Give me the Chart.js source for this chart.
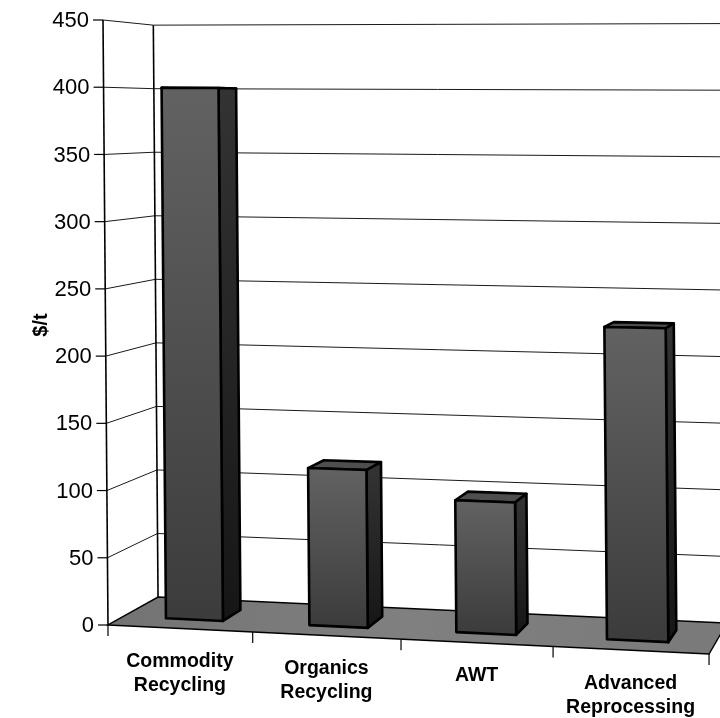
<!DOCTYPE html>
<html>
<head>
<meta charset="utf-8">
<script src="https://cdn.jsdelivr.net/npm/chart.js@4/dist/chart.umd.min.js"></script>
<style>
  html, body { margin: 0; padding: 0; background: #ffffff; }
  #wrap { width: 720px; height: 718px; }
</style>
</head>
<body>
<div id="wrap"><canvas id="c" width="720" height="718"></canvas></div>
<script>
// ---- data ----
const categories = [['Commodity', 'Recycling'], ['Organics', 'Recycling'], ['AWT'], ['Advanced', 'Reprocessing']];
const costPerTonne = [400, 117, 97, 227];
const valueTickMin = 0;
const valueTickMax = 450;
const valueTickStep = 50;
const valueAxisTitle = '$/t';

// ---- 3D view ----
// Perspective mapping of the plot box: u runs along the categories (0..1),
// t up the value axis (0..1), d from the front plane (0) to the back wall (1).
const VIEW = {
  x: [108, 566.5, -5, 59.2],
  y: [625, -2.8, -605, 6.6],
  w: [1, -0.0487, 0, 0.0579]
};
function proj(u, t, d) {
  const w = VIEW.w[0] + VIEW.w[1] * u + VIEW.w[2] * t + VIEW.w[3] * d;
  return {
    x: (VIEW.x[0] + VIEW.x[1] * u + VIEW.x[2] * t + VIEW.x[3] * d) / w,
    y: (VIEW.y[0] + VIEW.y[1] * u + VIEW.y[2] * t + VIEW.y[3] * d) / w
  };
}
const BAR_FRONT = 0.30;   // depth of the bar front faces
const BAR_BACK = 0.69;    // depth of the bar back faces

function poly(ctx, pts) {
  ctx.beginPath();
  ctx.moveTo(pts[0].x, pts[0].y);
  for (let i = 1; i < pts.length; i++) ctx.lineTo(pts[i].x, pts[i].y);
  ctx.closePath();
}
function line(ctx, a, b) {
  ctx.beginPath();
  ctx.moveTo(a.x, a.y);
  ctx.lineTo(b.x, b.y);
  ctx.stroke();
}

const box3d = {
  id: 'box3d',
  afterDatasetsDraw(chart) {
    const ctx = chart.ctx;
    const ca = chart.chartArea;
    const xs = chart.scales.x;
    const ys = chart.scales.y;
    const uOf = px => (px - ca.left) / (ca.right - ca.left);
    const tOf = py => (ca.bottom - py) / (ca.bottom - ca.top);

    const values = [];
    for (let v = valueTickMin; v <= valueTickMax + 1e-9; v += valueTickStep) values.push(v);

    ctx.save();
    ctx.lineCap = 'butt';
    ctx.lineJoin = 'miter';

    // walls: gridlines on the side wall and back wall
    ctx.strokeStyle = '#1a1a1a';
    ctx.lineWidth = 1;
    values.forEach(v => {
      if (v === valueTickMin) return;
      const t = tOf(ys.getPixelForValue(v));
      const a = proj(0, t, 0), b = proj(0, t, 1), c = proj(1, t, 1);
      ctx.beginPath();
      ctx.moveTo(a.x, a.y);
      ctx.lineTo(b.x, b.y);
      ctx.lineTo(c.x, c.y);
      ctx.stroke();
    });
    ctx.lineWidth = 1.6;
    ctx.strokeStyle = '#000';
    line(ctx, proj(0, 0, 1), proj(0, 1, 1));

    // floor
    const f0 = proj(0, 0, 0), f1 = proj(1, 0, 0), f2 = proj(1, 0, 1), f3 = proj(0, 0, 1);
    poly(ctx, [f0, f1, f2, f3]);
    const fg = ctx.createLinearGradient(f0.x, 0, f1.x, 0);
    fg.addColorStop(0, '#737373');
    fg.addColorStop(0.5, '#808080');
    fg.addColorStop(1, '#7a7a7a');
    ctx.fillStyle = fg;
    ctx.fill();
    ctx.lineWidth = 1.4;
    ctx.strokeStyle = '#000';
    ctx.stroke();

    // value axis on the front edge
    ctx.lineWidth = 1.6;
    line(ctx, proj(0, 0, 0), proj(0, 1, 0));
    ctx.lineWidth = 1.2;
    ctx.font = '22px "Liberation Sans", Arial, sans-serif';
    ctx.fillStyle = '#000';
    ctx.textAlign = 'right';
    ctx.textBaseline = 'middle';
    values.forEach(v => {
      const t = tOf(ys.getPixelForValue(v));
      const p = proj(0, t, 0);
      line(ctx, p, { x: p.x - 10, y: p.y });
      ctx.fillText(String(v), p.x - 14, p.y + 1);
    });

    // category ticks and labels along the front floor edge
    const catW = xs.getPixelForValue(1) - xs.getPixelForValue(0);
    for (let i = 0; i <= categories.length; i++) {
      const u = uOf(xs.getPixelForValue(i) - catW / 2);
      const p = proj(u, 0, 0);
      line(ctx, p, { x: p.x, y: p.y + 11 });
    }
    ctx.font = 'bold 19.5px "Liberation Sans", Arial, sans-serif';
    ctx.textAlign = 'center';
    categories.forEach((lab, i) => {
      const p = proj(uOf(xs.getPixelForValue(i)), 0, 0);
      lab.forEach((s, k) => ctx.fillText(s, p.x, p.y + 33 + k * 24));
    });

    // axis title
    ctx.save();
    ctx.translate(41, 325);
    ctx.rotate(-Math.PI / 2);
    ctx.font = 'bold 20px "Liberation Sans", Arial, sans-serif';
    ctx.textAlign = 'center';
    ctx.textBaseline = 'middle';
    ctx.fillText(valueAxisTitle, 0, 0);
    ctx.restore();

    // columns
    const meta = chart.getDatasetMeta(0);
    ctx.lineWidth = 2.6;
    ctx.lineJoin = 'round';
    ctx.strokeStyle = '#000';
    meta.data.forEach(bar => {
      const u1 = uOf(bar.x - bar.width / 2);
      const u2 = uOf(bar.x + bar.width / 2);
      const t = tOf(bar.y);
      const tb = tOf(bar.base);
      const d1 = BAR_FRONT, d2 = BAR_BACK;

      // top face
      poly(ctx, [proj(u1, t, d1), proj(u2, t, d1), proj(u2, t, d2), proj(u1, t, d2)]);
      ctx.fillStyle = '#4e4e4e';
      ctx.fill();
      ctx.stroke();

      // right side face
      const s0 = proj(u2, tb, d1), s1 = proj(u2, t, d1), s2 = proj(u2, t, d2), s3 = proj(u2, tb, d2);
      poly(ctx, [s0, s1, s2, s3]);
      const sg = ctx.createLinearGradient(0, s1.y, 0, s0.y);
      sg.addColorStop(0, '#333333');
      sg.addColorStop(1, '#161616');
      ctx.fillStyle = sg;
      ctx.fill();
      ctx.stroke();

      // front face
      const a0 = proj(u1, tb, d1), a1 = proj(u2, tb, d1), a2 = proj(u2, t, d1), a3 = proj(u1, t, d1);
      poly(ctx, [a0, a1, a2, a3]);
      const g = ctx.createLinearGradient(0, a3.y, 0, a0.y);
      g.addColorStop(0, '#626262');
      g.addColorStop(1, '#3c3c3c');
      ctx.fillStyle = g;
      ctx.fill();
      ctx.stroke();
    });

    ctx.restore();
  }
};

new Chart(document.getElementById('c'), {
  type: 'bar',
  data: {
    labels: categories,
    datasets: [{
      label: valueAxisTitle,
      data: costPerTonne,
      backgroundColor: 'rgba(0,0,0,0)',
      borderWidth: 0,
      categoryPercentage: 1,
      barPercentage: 0.4
    }]
  },
  options: {
    responsive: false,
    animation: false,
    devicePixelRatio: 1,
    layout: { padding: 0 },
    plugins: { legend: { display: false }, tooltip: { enabled: false } },
    scales: {
      x: {
        ticks: { display: false },
        grid: { display: false },
        border: { display: false }
      },
      y: {
        min: valueTickMin,
        max: valueTickMax,
        ticks: { display: false, stepSize: valueTickStep },
        grid: { display: false },
        border: { display: false }
      }
    }
  },
  plugins: [box3d]
});
</script>
</body>
</html>
